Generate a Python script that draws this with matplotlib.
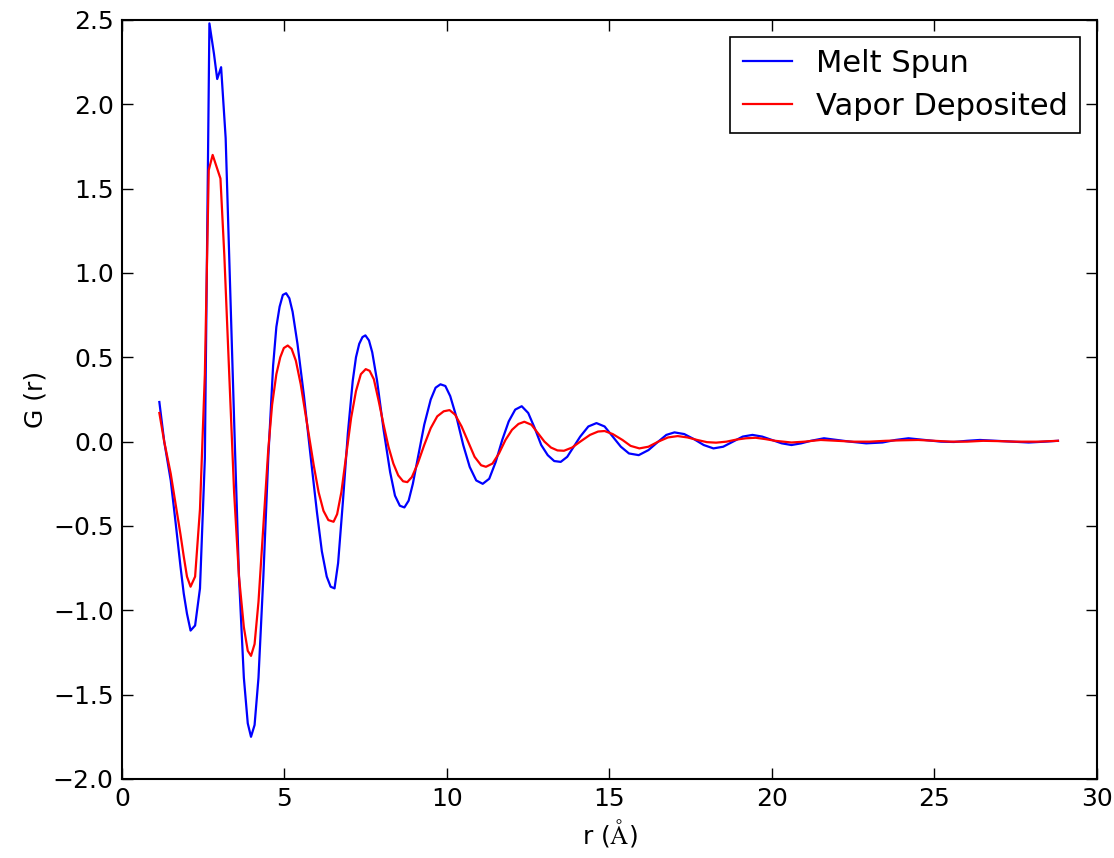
import matplotlib
matplotlib.use("Agg")
import matplotlib.pyplot as plt

# values
r_melt = [1.15, 1.3, 1.5, 1.65, 1.8, 1.9, 2.0, 2.11, 2.25, 2.4, 2.55, 2.69, 2.83,
          2.93, 3.05, 3.19, 3.33, 3.47, 3.6, 3.75, 3.87, 3.97, 4.08, 4.2, 4.35,
          4.5, 4.65, 4.75, 4.85, 4.95, 5.05, 5.15, 5.25, 5.4, 5.6, 5.8, 6.0,
          6.15, 6.3, 6.42, 6.54, 6.65, 6.8, 6.95, 7.1, 7.2, 7.3, 7.4, 7.49, 7.6,
          7.7, 7.85, 8.05, 8.25, 8.4, 8.55, 8.69, 8.82, 8.95, 9.1, 9.3, 9.5,
          9.65, 9.8, 9.95, 10.1, 10.3, 10.5, 10.7, 10.9, 11.1, 11.3, 11.5, 11.7,
          11.9, 12.1, 12.3, 12.5, 12.7, 12.9, 13.1, 13.3, 13.5, 13.7, 13.9,
          14.1, 14.35, 14.6, 14.85, 15.1, 15.35, 15.6, 15.9, 16.2, 16.5, 16.75,
          17.0, 17.3, 17.6, 17.9, 18.2, 18.5, 18.8, 19.1, 19.4, 19.7, 20.0,
          20.3, 20.6, 20.9, 21.2, 21.6, 22.0, 22.4, 22.9, 23.4, 23.8, 24.2,
          24.7, 25.2, 25.6, 26.0, 26.4, 26.9, 27.4, 27.9, 28.4, 28.8]
g_melt = [0.235, 0.0, -0.23, -0.48, -0.74, -0.9, -1.02, -1.12, -1.09, -0.87, -0.1,
          2.48, 2.3, 2.15, 2.22, 1.8, 0.9, 0.0, -0.8, -1.4, -1.67, -1.75, -1.68,
          -1.4, -0.8, -0.1, 0.45, 0.68, 0.8, 0.87, 0.88, 0.85, 0.77, 0.58, 0.27,
          -0.08, -0.42, -0.65, -0.8, -0.86, -0.87, -0.72, -0.35, 0.05, 0.36, 0.5,
          0.58, 0.62, 0.63, 0.6, 0.53, 0.36, 0.07, -0.18, -0.32, -0.38, -0.39,
          -0.35, -0.25, -0.1, 0.1, 0.25, 0.32, 0.34, 0.33, 0.27, 0.14, -0.02,
          -0.15, -0.23, -0.25, -0.22, -0.12, 0.01, 0.12, 0.19, 0.21, 0.17, 0.08,
          -0.02, -0.08, -0.115, -0.12, -0.09, -0.03, 0.03, 0.09, 0.11, 0.09,
          0.03, -0.03, -0.07, -0.08, -0.05, 0.0, 0.04, 0.055, 0.045, 0.015,
          -0.02, -0.04, -0.03, 0.0, 0.03, 0.04, 0.03, 0.01, -0.01, -0.02, -0.01,
          0.005, 0.02, 0.01, 0.0, -0.01, -0.005, 0.01, 0.02, 0.01, 0.0, -0.002,
          0.005, 0.01, 0.005, 0.0, -0.005, 0.0, 0.005]

r_vapor = [1.15, 1.3, 1.5, 1.65, 1.8, 1.9, 2.0, 2.11, 2.25, 2.4, 2.55, 2.67, 2.79,
           3.03, 3.15, 3.3, 3.45, 3.6, 3.75, 3.87, 3.97, 4.08, 4.2, 4.35, 4.5,
           4.62, 4.75, 4.87, 4.98, 5.1, 5.22, 5.35, 5.5, 5.7, 5.9, 6.05, 6.2,
           6.35, 6.51, 6.62, 6.75, 6.9, 7.05, 7.2, 7.35, 7.5, 7.62, 7.75, 7.9,
           8.05, 8.2, 8.35, 8.5, 8.65, 8.78, 8.92, 9.1, 9.3, 9.5, 9.7, 9.9,
           10.08, 10.25, 10.45, 10.65, 10.85, 11.05, 11.2, 11.4, 11.6, 11.8, 12.0,
           12.2, 12.38, 12.6, 12.8, 13.0, 13.2, 13.4, 13.6, 13.85, 14.1, 14.4,
           14.65, 14.85, 15.1, 15.4, 15.65, 15.92, 16.2, 16.5, 16.8, 17.1, 17.4,
           17.7, 18.0, 18.28, 18.6, 18.9, 19.2, 19.5, 19.8, 20.1, 20.6, 21.0,
           21.5, 22.0, 22.5, 23.0, 23.5, 24.0, 24.5, 25.0, 25.5, 26.0, 26.5,
           27.0, 27.5, 28.2, 28.8]
g_vapor = [0.17, 0.0, -0.19, -0.37, -0.55, -0.68, -0.8, -0.86, -0.8, -0.4, 0.4,
           1.61, 1.70, 1.56, 1.1, 0.4, -0.3, -0.8, -1.1, -1.24, -1.27, -1.2,
           -0.95, -0.5, -0.05, 0.22, 0.4, 0.5, 0.555, 0.57, 0.55, 0.48, 0.34,
           0.1, -0.14, -0.3, -0.41, -0.465, -0.475, -0.43, -0.3, -0.08, 0.14,
           0.3, 0.4, 0.43, 0.42, 0.37, 0.24, 0.1, -0.03, -0.13, -0.2, -0.235,
           -0.24, -0.21, -0.13, -0.02, 0.08, 0.15, 0.18, 0.187, 0.16, 0.09, 0.0,
           -0.09, -0.14, -0.149, -0.13, -0.07, 0.01, 0.07, 0.105, 0.118, 0.1,
           0.05, 0.0, -0.035, -0.052, -0.054, -0.035, 0.0, 0.04, 0.06, 0.063,
           0.045, 0.01, -0.025, -0.04, -0.03, 0.0, 0.025, 0.033, 0.025, 0.01,
           -0.003, -0.006, 0.0, 0.012, 0.02, 0.023, 0.015, 0.005, -0.005, 0.0,
           0.01, 0.005, 0.0, 0.0, 0.005, 0.008, 0.01, 0.005, 0.0, 0.0, 0.005,
           0.003, 0.0, 0.0, 0.005]

plt.rcParams["mathtext.fontset"] = "cm"

fig = plt.figure(figsize=(11.14, 8.58), dpi=100)
ax = fig.add_axes([0.1095, 0.0921, 0.8752, 0.8846])

ax.plot(r_melt, g_melt, color="blue", lw=1.6, label="Melt Spun")
ax.plot(r_vapor, g_vapor, color="red", lw=1.6, label="Vapor Deposited")

ax.set_xlim(0, 30)
ax.set_ylim(-2.0, 2.5)
ax.set_xticks([0, 5, 10, 15, 20, 25, 30])
ax.set_yticks([-2.0, -1.5, -1.0, -0.5, 0.0, 0.5, 1.0, 1.5, 2.0, 2.5])
ax.tick_params(direction="in", top=True, right=True, length=8, width=1,
               labelsize=18, pad=6)
for s in ax.spines.values():
    s.set_linewidth(1.5)

ax.set_xlabel(r"r ($\mathrm{\AA}$)", fontsize=18)
ax.set_ylabel("G (r)", fontsize=18)

leg = ax.legend(loc="upper right", fontsize=22, fancybox=False,
                handlelength=1.6, borderpad=0.4, borderaxespad=0.55,
                labelspacing=0.45, framealpha=1)
leg.get_frame().set_edgecolor("black")
leg.get_frame().set_linewidth(1.2)

fig.savefig("out.png", dpi=100, facecolor="white")
